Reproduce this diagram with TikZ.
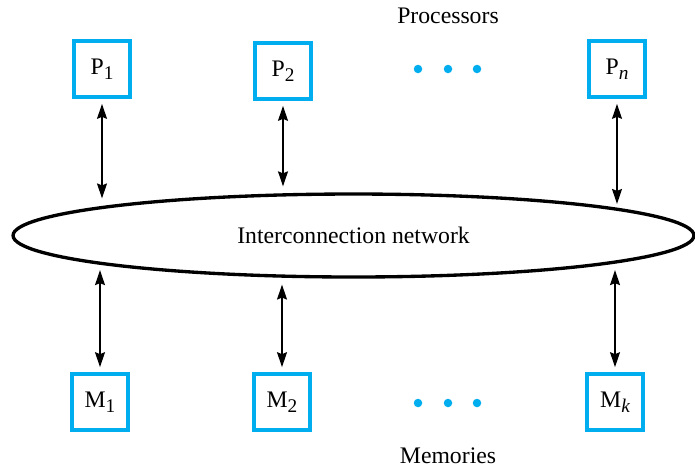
\documentclass[tikz,border=0pt]{standalone}
\usepackage{fontspec}
\setmainfont{Liberation Serif}
\usetikzlibrary{arrows.meta, shapes.geometric}
\definecolor{boxcyan}{RGB}{0,174,239}
\newcommand{\idx}[1]{\raisebox{-0.5ex}{\fontsize{11}{11}\selectfont #1}}

\begin{document}
\begin{tikzpicture}[x=0.02cm, y=-0.02cm, >={Stealth[length=0.3cm, width=0.2cm, inset=0.04cm]},
    font=\fontsize{13.5}{16}\selectfont,
    unit/.style={draw=boxcyan, line width=2.4pt, minimum size=1.11cm, inner sep=0pt},
    link/.style={<->, line width=0.75pt, shorten <=0.1cm, shorten >=0.14cm},
    blob/.style={circle, fill=boxcyan, inner sep=0pt, minimum size=0.17cm}]
    \useasboundingbox (0,0) rectangle (695,468);
    \node[ellipse, draw, line width=1.9pt, minimum width=13.62cm, minimum height=1.66cm, inner sep=0pt] (net) at (353.5,235.5) {Interconnection network};
    % processors
    \node (ptitle) at (448,16) {Processors};
    \node[unit] (P1) at (102,69) {P\idx{1}};
    \node[unit] (P2) at (283,71) {P\idx{2}};
    \node[unit] (Pn) at (617,69) {P\idx{\itshape n}};
    \foreach \x in {418,448,477}
        \node[blob] (pdot\x) at (\x,69) {};
    % memories
    \node (mtitle) at (448,456) {Memories};
    \node[unit] (M1) at (100,402) {M\idx{1}};
    \node[unit] (M2) at (282,402) {M\idx{2}};
    \node[unit] (Mk) at (615,402) {M\idx{\itshape k}};
    \foreach \x in {418,448,477}
        \node[blob] (mdot\x) at (\x,403) {};
    % links to the network
    \draw[link] (P1.south) -- (P1.south |- net.173.6);
    \draw[link] (P2.south) -- (P2.south |- net.150.2);
    \draw[link] (Pn.south) -- (Pn.south |- net.5.7);
    \draw[link] (M1.north) -- (M1.north |- net.186.3);
    \draw[link] (M2.north) -- (M2.north |- net.209.8);
    \draw[link] (Mk.north) -- (Mk.north |- net.354.2);
\end{tikzpicture}
\end{document}
